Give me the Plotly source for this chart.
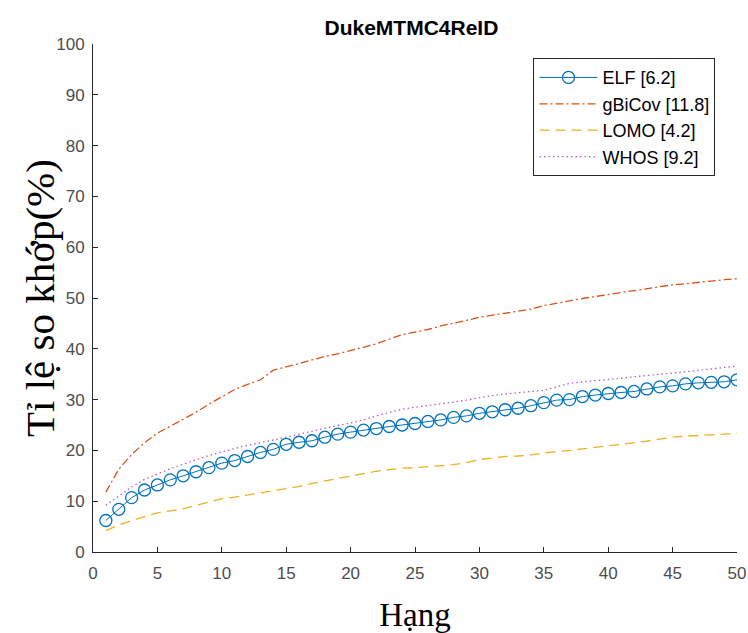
import plotly.graph_objects as go

ranks = list(range(1, 51))

elf = [6.2, 8.4, 10.7, 12.2, 13.2, 14.2, 15.0, 15.8, 16.6, 17.5,
       18.0, 18.8, 19.6, 20.2, 21.2, 21.6, 21.9, 22.6, 23.2, 23.6,
       24.0, 24.3, 24.7, 25.0, 25.3, 25.7, 26.0, 26.5, 26.8, 27.3,
       27.6, 28.0, 28.3, 28.8, 29.4, 29.9, 30.0, 30.6, 30.9, 31.2,
       31.4, 31.6, 32.1, 32.5, 32.7, 33.1, 33.3, 33.4, 33.5, 33.9]

gbicov = [11.8, 16.3, 19.2, 21.5, 23.4, 24.8, 26.2, 27.5, 29.1, 30.6,
          32.0, 33.0, 33.9, 35.8, 36.4, 37.1, 37.8, 38.5, 39.0, 39.6,
          40.3, 41.0, 41.9, 42.8, 43.3, 43.8, 44.5, 45.0, 45.6, 46.2,
          46.6, 47.0, 47.4, 47.8, 48.5, 49.0, 49.5, 49.9, 50.3, 50.7,
          51.1, 51.5, 51.9, 52.3, 52.6, 52.8, 53.1, 53.4, 53.6, 53.8]

lomo = [4.2, 5.3, 6.2, 7.0, 7.7, 8.1, 8.5, 9.2, 9.9, 10.5,
        10.8, 11.2, 11.7, 12.1, 12.5, 12.9, 13.5, 14.0, 14.4, 14.9,
        15.4, 15.9, 16.2, 16.5, 16.6, 16.8, 17.0, 17.2, 17.6, 18.2,
        18.5, 18.8, 18.9, 19.1, 19.5, 19.7, 20.0, 20.3, 20.6, 20.8,
        21.1, 21.5, 21.8, 22.2, 22.6, 22.8, 22.9, 23.0, 23.2, 23.4]

whos = [9.2, 11.0, 12.8, 14.3, 15.4, 16.4, 17.3, 18.2, 19.0, 19.7,
        20.4, 21.0, 21.5, 22.0, 22.6, 23.2, 23.8, 24.4, 24.9, 25.4,
        26.0, 26.8, 27.5, 28.1, 28.5, 28.8, 29.2, 29.5, 29.9, 30.4,
        30.8, 31.1, 31.4, 31.6, 31.8, 32.5, 33.2, 33.5, 33.7, 33.9,
        34.2, 34.5, 34.8, 35.0, 35.2, 35.5, 35.7, 36.0, 36.3, 36.6]

names = ["ELF [6.2]", "gBiCov [11.8]", "LOMO [4.2]", "WHOS [9.2]"]
x_ticks = [0, 5, 10, 15, 20, 25, 30, 35, 40, 45, 50]
y_ticks = [0, 10, 20, 30, 40, 50, 60, 70, 80, 90, 100]

fig = go.Figure()
fig.add_trace(go.Scatter(x=ranks, y=elf, name=names[0], mode="lines+markers",
                         legendgroup="a",
                         line=dict(color="#0072BD", width=1),
                         marker=dict(symbol="circle-open", size=12,
                                     line=dict(color="#0072BD", width=1.3))))
fig.add_trace(go.Scatter(x=ranks, y=gbicov, name=names[1], mode="lines",
                         legendgroup="b",
                         line=dict(color="#D95319", width=1.3, dash="8px,3px,2px,3px")))
fig.add_trace(go.Scatter(x=ranks, y=lomo, name=names[2], mode="lines",
                         legendgroup="c",
                         line=dict(color="#EDB120", width=1.3, dash="10px,6px")))
fig.add_trace(go.Scatter(x=ranks, y=whos, name=names[3], mode="lines",
                         legendgroup="d",
                         line=dict(color="#B05FC0", width=1.3, dash="1.5px,3px")))

axis_common = dict(showgrid=False, zeroline=False, showline=True,
                   linecolor="#262626", linewidth=1, ticks="inside",
                   ticklen=5, tickcolor="#262626", mirror=False, automargin=False,
                   tickfont=dict(family="Liberation Sans, Arial", size=17, color="#4d4d4d"))

fig.update_layout(
    width=748, height=633,
    margin=dict(l=93, r=11, t=44, b=81),
    paper_bgcolor="white", plot_bgcolor="white",
    title=dict(text="<b>DukeMTMC4ReID</b>", x=0.55, xanchor="center", y=0.957, yanchor="middle",
               font=dict(family="Liberation Sans, Arial", size=21, color="#000000")),
    xaxis=dict(range=[0, 50], tickvals=x_ticks, ticklabelstandoff=6,
               title=dict(text="Hạng", standoff=22,
                          font=dict(family="Liberation Serif, Times New Roman", size=33, color="#000000")),
               **axis_common),
    yaxis=dict(range=[0, 100], tickvals=y_ticks, ticklabelstandoff=4, **axis_common),
    annotations=[dict(text="Tỉ lệ so khớp(%)", xref="paper", yref="paper",
                      x=-0.0823, y=0.5, xanchor="center", yanchor="middle",
                      textangle=-90, showarrow=False,
                      font=dict(family="Liberation Serif, Times New Roman", size=41, color="#000000"))],
    legend=dict(x=0.684, y=0.972, xanchor="left", yanchor="top",
                bgcolor="white", bordercolor="#262626", borderwidth=1,
                font=dict(family="Liberation Sans, Arial", size=18, color="#000000"),
                itemwidth=58,
                traceorder="grouped", tracegroupgap=0),
)

fig.write_html("out.html", config={"displayModeBar": False},
               post_script="document.body.style.margin='0';")
